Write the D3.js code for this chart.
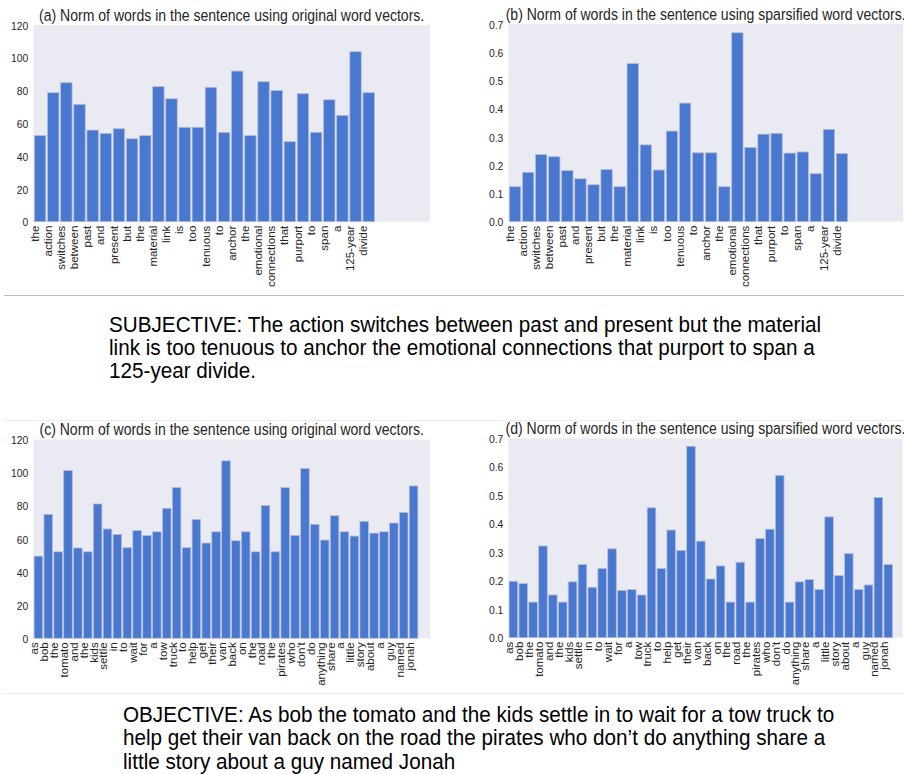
<!DOCTYPE html>
<html>
<head>
<meta charset="utf-8">
<script src="https://cdn.jsdelivr.net/npm/d3@7/dist/d3.min.js"></script>
<style>
  html, body { margin: 0; padding: 0; background: #fff; }
  svg { display: block; }
  text { font-family: "Liberation Sans", Arial, sans-serif; }
</style>
</head>
<body>
<svg id="fig" width="904" height="774"></svg>
<script>
// ---- data -------------------------------------------------------------
const subjWords = ["the","action","switches","between","past","and","present","but","the",
  "material","link","is","too","tenuous","to","anchor","the","emotional","connections",
  "that","purport","to","span","a","125-year","divide"];
const subjOriginal = [52.5,78.7,84.8,71.6,55.9,53.9,56.7,50.6,52.5,82.4,75.0,57.6,57.6,
  82.0,54.5,91.9,52.5,85.4,80.1,48.8,78.1,54.5,74.4,64.9,103.7,78.7];
const subjSparse = [0.124,0.175,0.238,0.230,0.181,0.152,0.131,0.185,0.124,0.560,0.272,
  0.183,0.321,0.420,0.244,0.244,0.124,0.669,0.263,0.310,0.313,0.243,0.247,0.170,0.327,0.241];

const objWords = ["as","bob","the","tomato","and","the","kids","settle","in","to","wait",
  "for","a","tow","truck","to","help","get","their","van","back","on","the","road","the",
  "pirates","who","don't","do","anything","share","a","little","story","about","a","guy",
  "named","jonah"];
const objOriginal = [49.6,74.8,52.2,101.3,54.5,52.2,81.1,66.0,62.7,54.7,65.1,62.1,64.3,
  78.5,91.0,54.7,71.8,57.5,64.3,107.1,58.9,64.3,52.2,80.1,52.2,91.0,62.1,102.5,68.8,59.3,
  74.0,64.3,61.7,70.6,63.5,64.3,69.6,76.0,92.0];
const objSparse = [0.198,0.190,0.125,0.322,0.150,0.125,0.196,0.257,0.177,0.243,0.312,
  0.166,0.169,0.150,0.456,0.243,0.378,0.306,0.672,0.339,0.206,0.252,0.125,0.265,0.125,
  0.348,0.381,0.570,0.125,0.196,0.204,0.169,0.424,0.218,0.295,0.169,0.185,0.492,0.257];

const originalTicks = [0,20,40,60,80,100,120];
const sparseTicks = [0.0,0.1,0.2,0.3,0.4,0.5,0.6,0.7];

const titleOriginal = "Norm of words in the sentence using original word vectors.";
const titleSparse = "Norm of words in the sentence using sparsified word vectors.";

const subjectiveLines = [
  "SUBJECTIVE: The action switches between past and present but the material",
  "link is too tenuous to anchor the emotional connections that purport to span a",
  "125-year divide."
];
const objectiveLines = [
  "OBJECTIVE: As bob the tomato and the kids settle in to wait for a tow truck to",
  "help get their van back on the road the pirates who don\u2019t do anything share a",
  "little story about a guy named Jonah"
];

// ---- style ------------------------------------------------------------
const SQUASH = 0.9;           // chart text is slightly condensed horizontally
const CAPTION_SQUASH = 0.94;
const BAR_FILL = "#4878CF";
const BAR_EDGE = "#b9bdd2";
const PANEL_BG = "#EAEAF2";
const INK = "#262626";
const BAR_W = 0.87;

const svg = d3.select("#fig");

// panels: box in pixels, x-domain padding in bar units
const panels = [
  { tag:"(a)", title:titleOriginal, words:subjWords, values:subjOriginal, ticks:originalTicks,
    fmt:d3.format("d"), yMax:120, box:{l:33.3, t:25, r:430, b:221.7}, extra:4.1 },
  { tag:"(b)", title:titleSparse, words:subjWords, values:subjSparse, ticks:sparseTicks,
    fmt:d3.format(".1f"), yMax:0.7, box:{l:508.3, t:24, r:903, b:221.7}, extra:4.1 },
  { tag:"(c)", title:titleOriginal, words:objWords, values:objOriginal, ticks:originalTicks,
    fmt:d3.format("d"), yMax:120, box:{l:33.3, t:439.5, r:430, b:638.3}, extra:1.1 },
  { tag:"(d)", title:titleSparse, words:objWords, values:objSparse, ticks:sparseTicks,
    fmt:d3.format(".1f"), yMax:0.7, box:{l:508.3, t:438.3, r:902.7, b:637.7}, extra:0.9 }
];

// slide separators
svg.append("line").attr("x1",4).attr("x2",904).attr("y1",295.5).attr("y2",295.5)
  .attr("stroke","#bdbdbd").attr("stroke-width",1.2);
[420.5, 693.5].forEach(y => svg.append("line").attr("x1",4).attr("x2",904)
  .attr("y1",y).attr("y2",y).attr("stroke","#ececec").attr("stroke-width",1));

panels.forEach(p => {
  const n = p.words.length;
  const x = d3.scaleLinear().domain([-0.08, n + p.extra]).range([p.box.l, p.box.r]);
  const y = d3.scaleLinear().domain([0, p.yMax]).range([p.box.b, p.box.t]);
  const g = svg.append("g");

  g.append("rect").attr("x",p.box.l).attr("y",p.box.t)
    .attr("width",p.box.r-p.box.l).attr("height",p.box.b-p.box.t).attr("fill",PANEL_BG);

  g.selectAll("rect.bar").data(p.values).join("rect").attr("class","bar")
    .attr("x",(d,i)=>x(i)).attr("width",(d,i)=>x(i+BAR_W)-x(i))
    .attr("y",d=>y(d)).attr("height",d=>y(0)-y(d))
    .attr("fill",BAR_FILL).attr("stroke",BAR_EDGE).attr("stroke-width",0.8);

  // y axis (no lines, labels only)
  const yAxis = d3.axisLeft(y).tickValues(p.ticks).tickFormat(p.fmt).tickSize(0).tickPadding(0);
  const ya = g.append("g").attr("transform",`translate(${p.box.l},0)`).call(yAxis);
  ya.select(".domain").remove();
  ya.selectAll("text")
    .attr("x",null).attr("dy",null)
    .attr("transform",`translate(-5,0) scale(${SQUASH},1)`)
    .attr("dominant-baseline","central")
    .attr("font-size",11.5).attr("fill",INK).attr("font-family",null);

  // x axis: vertical word labels at each bar's left edge
  const xAxis = d3.axisBottom(x).tickValues(d3.range(n)).tickFormat(i=>p.words[i])
    .tickSize(0).tickPadding(0);
  const xa = g.append("g").attr("transform",`translate(0,${p.box.b})`).call(xAxis);
  xa.select(".domain").remove();
  xa.selectAll("text")
    .attr("y",null).attr("dy",null)
    .attr("transform",`translate(0,4) rotate(-90) scale(1,${SQUASH})`)
    .attr("text-anchor","end").attr("dominant-baseline","central")
    .attr("font-size",11.5).attr("fill",INK).attr("font-family",null);

  // title
  svg.append("text")
    .attr("transform",`translate(${(p.box.l+p.box.r)/2},${p.box.t-4.5}) scale(${SQUASH},1)`)
    .attr("text-anchor","middle").attr("font-size",15.6).attr("fill",INK)
    .text(`${p.tag} ${p.title}`);
});

// sentence captions
function caption(lines, x0, y0, lh){
  const t = svg.append("text")
    .attr("transform",`translate(${x0},${y0}) scale(${CAPTION_SQUASH},1)`)
    .attr("font-size",22).attr("fill","#000");
  lines.forEach((s,i)=>t.append("tspan").attr("x",0).attr("y",i*lh).text(s));
}
caption(subjectiveLines, 109, 332, 23);
caption(objectiveLines, 123, 722, 23.5);
</script>
</body>
</html>
